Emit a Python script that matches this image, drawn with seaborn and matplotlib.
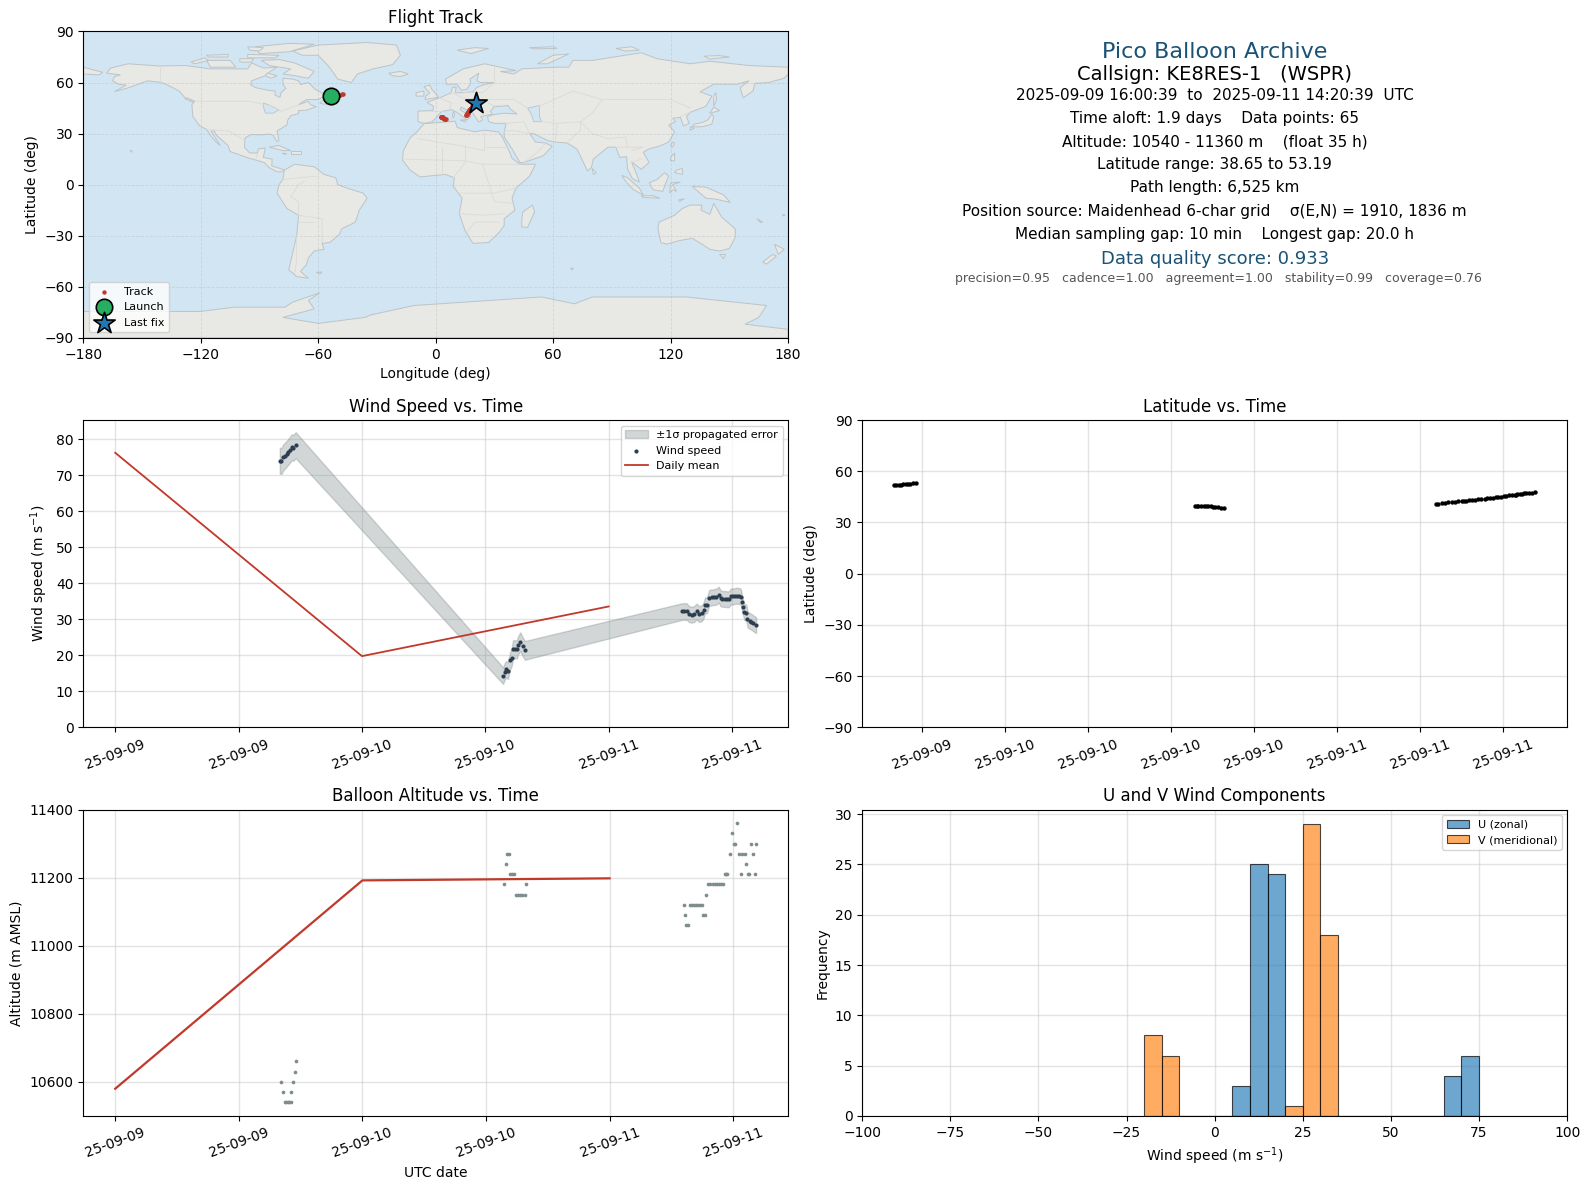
import matplotlib
matplotlib.use('Agg')
import matplotlib.dates as mdates
import matplotlib.pyplot as plt
import pandas as pd
import seaborn as sns

# hours since 2025-09-09 00:00 UTC
hours = [16.01, 16.17, 16.34, 16.51, 16.67, 16.84, 17.01, 17.17, 17.34, 17.55,
         37.72, 37.88, 38.00, 38.20, 38.43, 38.56, 38.69, 38.88, 39.07, 39.20, 39.40, 39.62, 39.85,
         55.16, 55.35, 55.58, 55.81, 56.06, 56.32, 56.55, 56.78, 57.04, 57.23, 57.36, 57.55, 57.78,
         58.01, 58.23, 58.46, 58.69, 58.88, 59.07, 59.30, 59.50, 59.69, 59.88, 60.08, 60.27, 60.47,
         60.69, 60.85, 60.95, 61.05, 61.21, 61.40, 61.50, 61.70, 61.89, 62.08, 62.34]
wind = [74.1, 74.0, 75.0, 75.5, 76.0, 76.6, 77.2, 77.8, 77.7, 78.4,
        14.4, 15.5, 16.1, 15.8, 18.7, 19.4, 21.7, 21.7, 21.7, 22.9, 23.8, 22.5, 21.4,
        32.2, 32.2, 32.2, 31.5, 31.3, 31.5, 32.2, 31.5, 31.7, 32.5, 33.9, 33.9, 36.0,
        36.1, 36.2, 36.3, 36.9, 35.9, 35.7, 35.7, 35.6, 35.6, 36.4, 36.4, 36.5, 36.6,
        36.5, 36.3, 34.8, 33.5, 32.0, 31.9, 30.0, 29.6, 29.3, 28.9, 28.4]
sigma = [3.6, 3.6, 3.6, 3.6, 3.6, 3.6, 3.6, 3.6, 3.6, 3.6,
         2.3, 2.3, 2.3, 2.3, 2.4, 2.4, 2.5, 2.5, 2.5, 2.5, 2.6, 2.6, 2.6,
         2.3, 2.3, 2.3, 2.2, 2.2, 2.2, 2.2, 2.2, 2.2, 2.2, 2.2, 2.2, 2.2,
         2.2, 2.2, 2.2, 2.2, 2.2, 2.2, 2.2, 2.2, 2.2, 2.2, 2.2, 2.2, 2.2,
         2.2, 2.2, 2.2, 2.2, 2.2, 2.2, 2.2, 2.2, 2.2, 2.2, 2.2]
lat = [51.8, 51.9, 52.1, 52.2, 52.3, 52.5, 52.6, 52.8, 53.0, 53.19,
       39.6, 39.6, 39.6, 39.6, 39.5, 39.5, 39.5, 39.4, 38.9, 38.8, 38.8, 38.7, 38.65,
       41.0, 41.1, 41.2, 41.5, 41.7, 41.9, 42.1, 42.3, 42.5, 42.7, 42.8, 43.0, 43.2,
       43.4, 43.6, 43.8, 44.0, 44.2, 44.4, 44.6, 44.8, 45.0, 45.2, 45.4, 45.6, 45.8,
       46.0, 46.2, 46.3, 46.4, 46.6, 46.8, 47.0, 47.2, 47.4, 47.5, 47.7]
lon = [-53.6, -52.9, -52.2, -51.4, -50.7, -50.0, -49.3, -48.6, -48.0, -47.4,
       2.5, 2.7, 2.9, 3.0, 3.2, 3.4, 3.6, 3.8, 4.0, 4.3, 4.6, 5.0, 5.3,
       15.6, 15.7, 15.8, 16.0, 16.1, 16.2, 16.3, 16.4, 16.5, 16.6, 16.7, 16.8, 16.9,
       17.0, 17.1, 17.2, 17.4, 17.5, 17.6, 17.7, 17.9, 18.0, 18.2, 18.3, 18.5, 18.6,
       18.8, 18.9, 19.0, 19.2, 19.3, 19.5, 19.7, 19.9, 20.1, 20.3, 20.5]

alt_hours = [16.12, 16.31, 16.45, 16.6, 16.75, 16.9, 17.05, 17.09, 17.28, 17.47, 17.57,
             37.72, 37.9, 38.0, 38.2, 38.33, 38.52, 38.72, 38.91, 39.1, 39.3, 39.5, 39.76, 39.85,
             55.2, 55.3, 55.45, 55.62, 55.85, 55.97, 56.16, 56.35, 56.55, 56.75, 56.94, 57.1, 57.25,
             57.39, 57.6, 57.8, 58.0, 58.2, 58.4, 58.6, 58.8, 59.0, 59.19, 59.3, 59.4, 59.71, 59.9,
             60.06, 60.2, 60.39, 60.58, 60.74, 60.9, 61.13, 61.29, 61.45, 61.55, 61.74, 61.94, 62.13, 62.23]
altitude = [10600, 10570, 10540, 10540, 10540, 10540, 10540, 10570, 10600, 10630, 10660,
            11180, 11240, 11270, 11270, 11210, 11210, 11210, 11150, 11150, 11150, 11150, 11150, 11180,
            11120, 11090, 11060, 11060, 11120, 11120, 11120, 11120, 11120, 11120, 11120, 11090, 11090,
            11150, 11180, 11180, 11180, 11180, 11180, 11180, 11180, 11180, 11210, 11210, 11210, 11270, 11330,
            11300, 11300, 11360, 11270, 11210, 11270, 11270, 11240, 11210, 11210, 11300, 11270, 11210, 11300]

mean_days = ['2025-09-09', '2025-09-10', '2025-09-11']
mean_wind = [76.3, 19.8, 33.6]
mean_alt = [10580, 11192, 11198]

bin_edges = [-20, -15, -10, -5, 0, 5, 10, 15, 20, 25, 30, 35, 40, 45, 50, 55, 60, 65, 70, 75]
bin_centers = [-17.5, -12.5, -7.5, -2.5, 2.5, 7.5, 12.5, 17.5, 22.5, 27.5, 32.5, 37.5, 42.5, 47.5, 52.5, 57.5, 62.5, 67.5, 72.5]
u_counts = [0, 0, 0, 0, 0, 3, 25, 24, 0, 0, 0, 0, 0, 0, 0, 0, 0, 4, 6]
v_counts = [8, 6, 0, 0, 0, 0, 0, 0, 1, 29, 18, 0, 0, 0, 0, 0, 0, 0, 0]

launch = (-53.6, 51.8)
last_fix = (20.5, 47.7)

# rough coastlines, lon/lat
land = [
    [(-168, 65.5), (-166, 68.5), (-157, 71), (-141, 69.7), (-128, 70), (-115, 68), (-108, 68), (-96, 68), (-94, 71.5),
     (-88, 68.5), (-81, 69), (-85, 66), (-87, 64), (-94, 61), (-94.5, 58.8), (-92, 57), (-85, 55.3), (-82, 55), (-82, 52.5),
     (-79.5, 51.3), (-79, 54), (-76.5, 56.5), (-78, 59), (-78, 62.5), (-73, 62), (-70, 61), (-69, 58.8), (-65, 60), (-61.5, 56),
     (-56, 52.5), (-60, 50), (-66, 50), (-70, 47), (-65, 49), (-64, 47), (-61, 45.8), (-66, 43.7), (-70, 43.5), (-70, 41.7),
     (-74, 40.5), (-75.5, 38), (-76, 35), (-81, 31.5), (-80, 26), (-81, 25.2), (-83, 29), (-85, 29.7), (-90, 29.2), (-94, 29.5),
     (-97.3, 27.5), (-97.7, 22), (-95, 18.6), (-91, 18.6), (-90.5, 21), (-87, 21.5), (-88, 16), (-83.5, 15), (-83.7, 11),
     (-79.5, 9.5), (-77.3, 8.5), (-78.5, 7.5), (-81, 7.5), (-85, 10), (-87.5, 13), (-92, 14.5), (-96, 15.8), (-105, 19.5),
     (-106, 23), (-112, 29), (-113, 31.5), (-114.8, 31.5), (-112, 26.5), (-110, 23), (-112, 24.8), (-115, 29), (-117, 32.5),
     (-120.5, 34.5), (-124, 40), (-124.5, 47), (-123, 49), (-128, 51), (-131, 55), (-136, 58), (-140, 60), (-147, 61), (-152, 59),
     (-158, 56.5), (-164, 54.7), (-158, 58.5), (-162, 59), (-165, 61), (-164, 63.5), (-161, 64.5)],
    [(-73, 78.5), (-60, 82), (-35, 83.5), (-20, 82), (-18, 76), (-22, 70.5), (-32, 68), (-40, 65), (-43, 60), (-50, 62),
     (-53, 67), (-55, 70), (-60, 76), (-68, 76)],
    [(-80, 73.5), (-72, 71.5), (-67, 69), (-62, 66.5), (-65, 62.5), (-72, 64), (-78, 65), (-74, 68), (-85, 70), (-89, 73)],
    [(-117, 73), (-105, 73), (-102, 69), (-115, 69)],
    [(-90, 77), (-75, 78), (-62, 82.5), (-75, 83), (-92, 81)],
    [(-125, 72), (-118, 74.5), (-116, 73), (-123, 71)],
    [(-96, 76.5), (-80, 76), (-82, 74.5), (-96, 74.5)],
    [(-117, 76), (-106, 76.5), (-106, 75), (-116, 75)],
    [(-100, 74), (-93, 74), (-94, 72), (-100, 72)],
    [(-96, 81), (-88, 80.5), (-90, 78.5), (-95, 79)],
    [(-86, 65.5), (-81, 64), (-84, 62.5), (-87, 64)],
    [(-59, 47.7), (-53, 46.8), (-53, 49), (-56, 51.5)],
    [(-128, 50.5), (-124, 48.5), (-123.5, 49), (-127, 51)],
    [(-85, 22), (-80, 23), (-74, 20), (-78, 20)],
    [(-74, 19.5), (-69, 19.5), (-69, 18), (-74, 18)],
    [(-78.3, 18.4), (-76.2, 18.2), (-77, 17.8)],
    [(-156, 20.2), (-155, 19.8), (-155.6, 19)],
    [(-24, 65.5), (-18, 66.5), (-14, 65), (-18, 63.5), (-22, 64)],
    [(-77.3, 8.5), (-72, 12), (-62, 10.5), (-57, 6), (-51, 4), (-50, 0), (-44, -2.5), (-37, -5), (-35, -8), (-39, -15), (-41, -22),
     (-48, -26), (-49, -29), (-54, -34), (-58, -34.5), (-57, -38), (-62, -39), (-65, -43), (-66, -47), (-69, -51), (-65, -55),
     (-71, -54), (-75, -50), (-73, -40), (-71, -30), (-70, -18), (-76, -14), (-81, -5), (-80, 0), (-78, 3)],
    [(-61, -51.5), (-58, -51.3), (-59, -52.3)],
    [(-6, 35.8), (10, 37.3), (11, 33.5), (20, 31), (25, 32), (32, 31), (34, 28), (37, 21), (39, 15.5), (43, 12), (51, 12), (48, 5),
     (41, -2), (39, -8), (40.5, -15), (35, -20), (35, -24), (32.5, -28), (27, -34), (19, -34.5), (15, -27), (12, -17), (13.5, -8),
     (9, -1), (9.5, 4), (5, 6), (-4, 5), (-8, 4.5), (-13, 8.5), (-17, 14.5), (-16.5, 20), (-13, 27.5), (-9.5, 31)],
    [(-9, 37), (-9, 43.2), (-1.5, 43.5), (-1, 46), (-4.5, 48.4), (2, 51), (8, 54), (8.5, 57), (10.5, 57.5), (10, 54), (14, 54),
     (19, 54.5), (21, 57), (24, 58.5), (30, 60), (23, 60), (21, 61), (22, 65.5), (17.5, 62), (18, 60), (16, 56), (13, 55.5), (11, 59),
     (5.5, 59), (5, 62), (14, 68), (25, 71), (41, 67), (33, 66.5), (40, 65), (44, 68), (60, 69), (68, 69), (70, 73), (80, 73),
     (105, 77.5), (113, 74), (130, 71), (140, 72.5), (160, 70), (180, 69), (180, 65), (178, 62.5), (170, 60), (163, 59.5), (162, 55),
     (157, 51), (155.5, 57), (160, 61), (154, 59), (142, 59), (135, 54.5), (141, 52), (138, 46), (130, 42.5), (128, 40), (129.5, 36),
     (126.5, 34.5), (125, 39.5), (121, 39), (122.5, 37), (119, 35), (122, 31), (119, 25), (114, 22.5), (109, 21), (106, 19), (109, 13),
     (105, 9), (100, 13.5), (103, 5), (104, 1.5), (100.5, 3.5), (98, 9), (97.5, 16.5), (94, 16), (92, 22), (88, 22), (80.5, 15),
     (79.5, 10), (77.5, 8), (73, 19), (72, 21), (67, 24.5), (61, 25), (57, 26), (50, 30), (48, 30), (51, 25), (56, 24.5), (59.5, 22.5),
     (55, 17), (45, 13), (43, 13), (39, 21), (35, 28), (35, 31), (36, 36), (30, 36), (27, 37), (26.5, 40), (29, 41), (35, 42),
     (41.5, 41.5), (38, 44.5), (37, 46.5), (33, 46), (30, 46), (28, 43), (29, 41.3), (26, 40.8), (23, 40), (24, 38), (22, 36.8),
     (19.5, 41), (19, 42), (13, 45.5), (12.5, 44), (18, 40), (16, 38), (11, 42.5), (8, 44), (3, 43), (0, 39), (-2, 36.8), (-6, 36)],
    [(-180, 65), (-172, 64.5), (-170, 66), (-180, 69)],
    [(-5.5, 50), (1.5, 51.3), (0, 53.5), (-2, 56), (-3, 58.6), (-6, 57.5), (-3, 54), (-5, 52)],
    [(-10, 52), (-6, 52), (-6, 55), (-10, 54)],
    [(52, 71), (57, 71), (68, 76.8), (60, 76)],
    [(11, 79), (20, 80.5), (27, 80), (18, 77)],
    [(48, 80.5), (60, 81), (62, 80), (50, 79.8)],
    [(92, 80), (100, 81), (104, 79), (97, 78.5)],
    [(137, 75.5), (145, 75.8), (150, 75), (140, 73.8)],
    [(142, 46), (143.5, 50), (143, 54), (142, 52)],
    [(131, 34), (136, 34), (141, 35.5), (142, 40), (141, 41.5), (139, 38), (136, 36.5), (132, 35.5)],
    [(140, 42), (145, 43.5), (142, 45.5)],
    [(130, 32), (132, 33), (130, 34)],
    [(120, 23), (121, 25), (122, 24.5), (121, 22)],
    [(120, 16), (122, 18.5), (122, 14), (120, 14)],
    [(122, 7), (126, 6), (126, 9.5), (123, 8.5)],
    [(109, 1), (113, 3), (117, 7), (119, 5), (117.5, 1), (116, -4), (111, -3)],
    [(95, 5.5), (98, 4), (104, -2), (106, -6), (101, -3), (97, 2)],
    [(105, -6.5), (111, -6.5), (114.5, -8), (106, -7.5)],
    [(119.5, -5), (120, 1), (125, 1.5), (121, 0), (123, -4), (121, -3)],
    [(131, -1), (138, -1.5), (147, -6), (150.5, -10.5), (143, -8.5), (138, -8), (134, -4)],
    [(124, -9), (127, -8.3), (124.5, -10)],
    [(80, 9.5), (82, 7), (80.5, 6)],
    [(49.5, -12), (50.5, -16), (47, -25), (44, -25), (44, -20), (44.5, -16)],
    [(114, -22), (122, -18), (126, -14), (130, -12), (136, -12), (135.5, -15), (140, -17.5), (142, -11), (146, -19), (153, -26),
     (153, -31), (150, -37.5), (145, -39), (140, -38), (136, -35), (131, -31.5), (124, -33), (118, -35), (115, -34), (113.5, -26)],
    [(145, -41), (148, -41), (147, -43.5)],
    [(173, -35), (178, -38), (175, -41), (174, -38)],
    [(172, -41), (174, -42), (169, -46.7), (167, -45.5)],
    [(164, -20), (167, -22), (166, -22.3)],
    [(177, -17.5), (178.5, -18), (177.5, -18.4)],
    [(9, 39), (9.7, 41), (9.3, 43), (8.5, 41)],
    [(12.5, 38), (15.5, 38), (15, 36.8)],
    [(69, -49), (70.5, -49.2), (69.5, -50)],
    [(-180, -74.5), (-120, -74.5), (-103, -72), (-77, -72), (-73, -69), (-59, -63.5), (-65, -68), (-62, -73), (-78, -78), (-60, -81.5),
     (-36, -78), (-33, -76.5), (-11, -71), (54, -66), (71, -70), (80, -66), (128, -66), (169, -71), (165, -78), (158, -82), (180, -85),
     (180, -90), (-180, -90)],
]
inland_water = [
    [(47, 45), (53, 46.5), (53, 40), (54, 37), (50, 37), (49, 41)],
    [(-88, 48), (-84.5, 46.5), (-80, 44), (-83, 42), (-87, 42), (-88, 46)],
]
borders = [
    [(-141, 69.7), (-141, 60)], [(-123, 49), (-95, 49), (-83, 46), (-79, 43), (-70, 47)],
    [(-117, 32.5), (-106, 31.5), (-97.3, 26)], [(-92, 14.5), (-91, 18)],
    [(-70, -18), (-58, -20), (-58, -34)], [(-78, 3), (-70, 4), (-60, 5)], [(-70, -18), (-70, -10), (-74, -7), (-70, 0), (-67, 2)],
    [(-71, -30), (-71, -45), (-72, -52)], [(-62, -22), (-70, -22)],
    [(-9, 27), (12, 23), (25, 20), (25, 32)], [(25, 22), (37, 22)], [(-17, 15), (15, 14), (24, 12), (43, 12)],
    [(3, 6), (3, 22)], [(15, 14), (15, 23)], [(9, 4), (15, 13)], [(24, 12), (30, -10), (40, -11)], [(12, -17), (24, -18), (35, -17)],
    [(16, -28), (20, -22), (32, -22)], [(12, -5), (30, -5), (41, -2)],
    [(-2, 43), (3, 43)], [(2, 51), (8, 48), (7, 44)], [(8, 54), (14, 51), (24, 50), (30, 46)], [(14, 54), (24, 54), (30, 60)],
    [(30, 60), (30, 69)], [(24, 50), (40, 50), (47, 45)], [(53, 46), (70, 55), (85, 50), (98, 50), (120, 50), (130, 45)],
    [(85, 50), (80, 42), (74, 37), (62, 36), (54, 37)], [(74, 37), (80, 30), (88, 27), (97, 28), (98, 22), (92, 22)],
    [(61, 25), (62, 36)], [(67, 24.5), (74, 32), (74, 37)], [(36, 36), (45, 37), (48, 30)], [(35, 31), (39, 32), (48, 30)],
    [(45, 13), (52, 19), (56, 24)], [(100, 20), (106, 22), (98, 22)], [(100, 13), (105, 15)], [(130, 42.5), (125, 40)],
]

start = pd.Timestamp('2025-09-09')


def to_times(hrs):
    return start + pd.to_timedelta(hrs, unit='h')


track_df = pd.DataFrame({'time': to_times(hours), 'wind': wind, 'sigma': sigma, 'lat': lat, 'lon': lon})
alt_df = pd.DataFrame({'time': to_times(alt_hours), 'alt': altitude})
daily_df = pd.DataFrame({'day': pd.to_datetime(mean_days), 'wind': mean_wind, 'alt': mean_alt})

W, H = 1567.5, 1172.0


def panel(fig, x0, x1, y0, y1):
    return fig.add_axes([x0 / W, 1 - y1 / H, (x1 - x0) / W, (y1 - y0) / H])


fig = plt.figure(figsize=(15.9, 11.89), dpi=100)
ax_map = panel(fig, 82, 777, 31, 333)
ax_info = panel(fig, 850, 1545, 31, 333)
ax_wind = panel(fig, 82, 777, 414, 717)
ax_lat = panel(fig, 850, 1545, 414, 717)
ax_alt = panel(fig, 82, 777, 798, 1100)
ax_hist = panel(fig, 850, 1545, 798, 1100)

# map
ax_map.set_facecolor('#d2e5f2')
for poly in land:
    ax_map.fill([p[0] for p in poly], [p[1] for p in poly], facecolor='#e8e8e4', edgecolor='#bcc4c8', lw=0.7, zorder=1)
for poly in inland_water:
    ax_map.fill([p[0] for p in poly], [p[1] for p in poly], facecolor='#d2e5f2', edgecolor='#bcc4c8', lw=0.6, zorder=1)
for line in borders:
    ax_map.plot([p[0] for p in line], [p[1] for p in line], color='#dadbd8', lw=0.6, zorder=1)
sns.scatterplot(data=track_df, x='lon', y='lat', color='#c0392b', s=10, linewidth=0, label='Track', ax=ax_map, zorder=4)
ax_map.scatter(*launch, s=140, marker='o', color='#27ae60', edgecolor='black', linewidth=1.2, label='Launch', zorder=5)
ax_map.scatter(*last_fix, s=260, marker='*', color='#1f77b4', edgecolor='black', linewidth=1.2, label='Last fix', zorder=5)
ax_map.set_xlim(-180, 180)
ax_map.set_ylim(-90, 90)
ax_map.set_xticks(range(-180, 181, 60))
ax_map.set_yticks(range(-90, 91, 30))
ax_map.grid(True, color='#aab4ba', lw=0.6, ls='--', alpha=0.35)
ax_map.set_axisbelow('line')
ax_map.set_title('Flight Track', fontsize=12)
ax_map.set_xlabel('Longitude (deg)')
ax_map.set_ylabel('Latitude (deg)')
ax_map.legend(loc='lower left', fontsize=8)

# info block
ax_info.axis('off')
info_lines = [
    (51, 'Pico Balloon Archive', 16, '#1a5276', 0.5),
    (73, 'Callsign: KE8RES-1   (WSPR)', 14, 'black', 0.5),
    (94, '2025-09-09 16:00:39  to  2025-09-11 14:20:39  UTC', 11, 'black', 0.5),
    (117, 'Time aloft: 1.9 days    Data points: 65', 11, 'black', 0.5),
    (140, 'Altitude: 10540 - 11360 m    (float 35 h)', 11, 'black', 0.5),
    (162, 'Latitude range: 38.65 to 53.19', 11, 'black', 0.5),
    (185, 'Path length: 6,525 km', 11, 'black', 0.5),
    (208, 'Position source: Maidenhead 6-char grid    \u03c3(E,N) = 1910, 1836 m', 11, 'black', 0.5),
    (231, 'Median sampling gap: 10 min    Longest gap: 20.0 h', 11, 'black', 0.5),
    (255, 'Data quality score: 0.933', 13, '#1a5276', 0.5),
    (275, 'precision=0.95   cadence=1.00   agreement=1.00   stability=0.99   coverage=0.76', 9, '#555555', 0.505),
]
for y_px, text, size, colour, x_pos in info_lines:
    ax_info.text(x_pos, (333 - y_px) / 302.0, text, ha='center', va='center', fontsize=size, color=colour,
                 transform=ax_info.transAxes)

# wind speed
low = [w - s for w, s in zip(wind, sigma)]
high = [w + s for w, s in zip(wind, sigma)]
ax_wind.fill_between(track_df['time'], low, high, color='#7f8c8d', alpha=0.35, label='\u00b11\u03c3 propagated error')
sns.scatterplot(data=track_df, x='time', y='wind', color='#2c3e50', s=9, linewidth=0, label='Wind speed', ax=ax_wind, zorder=3)
sns.lineplot(data=daily_df, x='day', y='wind', color='#c0392b', lw=1.3, label='Daily mean', errorbar=None, ax=ax_wind, zorder=3)
ax_wind.set_ylim(0, 85.4)
ax_wind.set_yticks(range(0, 81, 10))
ax_wind.set_title('Wind Speed vs. Time', fontsize=12)
ax_wind.set_xlabel('')
ax_wind.set_ylabel('Wind speed (m s$^{-1}$)')
ax_wind.legend(loc='upper right', fontsize=8)

# latitude
sns.scatterplot(data=track_df, x='time', y='lat', color='black', s=10, linewidth=0, ax=ax_lat, zorder=3)
ax_lat.set_ylim(-90, 90)
ax_lat.set_yticks(range(-90, 91, 30))
ax_lat.set_title('Latitude vs. Time', fontsize=12)
ax_lat.set_xlabel('')
ax_lat.set_ylabel('Latitude (deg)')

# altitude
sns.scatterplot(data=alt_df, x='time', y='alt', color='#7f8c8d', s=7, linewidth=0, ax=ax_alt, zorder=3)
sns.lineplot(data=daily_df, x='day', y='alt', color='#c0392b', lw=1.6, errorbar=None, ax=ax_alt, zorder=3)
ax_alt.set_ylim(10500, 11400)
ax_alt.set_yticks(range(10600, 11401, 200))
ax_alt.set_title('Balloon Altitude vs. Time', fontsize=12)
ax_alt.set_xlabel('UTC date')
ax_alt.set_ylabel('Altitude (m AMSL)')

# time axes
twelve_hourly = pd.date_range('2025-09-09 00:00', '2025-09-11 12:00', freq='12h')
six_hourly = pd.date_range('2025-09-09 18:00', '2025-09-11 12:00', freq='6h')
ax_wind.set_xticks(twelve_hourly)
ax_alt.set_xticks(twelve_hourly)
ax_lat.set_xticks(six_hourly)
for ax in (ax_wind, ax_lat, ax_alt):
    ax.xaxis.set_major_formatter(mdates.DateFormatter('%y-%m-%d'))
    ax.tick_params(axis='x', rotation=20)
    ax.grid(True, color='#cccccc', lw=1.0, alpha=0.55)
    ax.set_axisbelow(True)

# U and V histogram
edge = (0, 0, 0, 0.7)
sns.histplot(x=bin_centers, weights=u_counts, bins=bin_edges, color='#1f77b4', alpha=0.65, edgecolor=edge,
             linewidth=0.8, label='U (zonal)', ax=ax_hist)
sns.histplot(x=bin_centers, weights=v_counts, bins=bin_edges, color='#ff7f0e', alpha=0.65, edgecolor=edge,
             linewidth=0.8, label='V (meridional)', ax=ax_hist)
ax_hist.set_xlim(-100, 100)
ax_hist.set_ylim(0, 30.45)
ax_hist.set_xticks(range(-100, 101, 25))
ax_hist.set_yticks(range(0, 31, 5))
ax_hist.grid(True, color='#cccccc', lw=1.0, alpha=0.55)
ax_hist.set_axisbelow(True)
ax_hist.set_title('U and V Wind Components', fontsize=12)
ax_hist.set_xlabel('Wind speed (m s$^{-1}$)')
ax_hist.set_ylabel('Frequency')
ax_hist.legend(loc='upper right', fontsize=8)

fig.savefig('out.png', dpi=100)
